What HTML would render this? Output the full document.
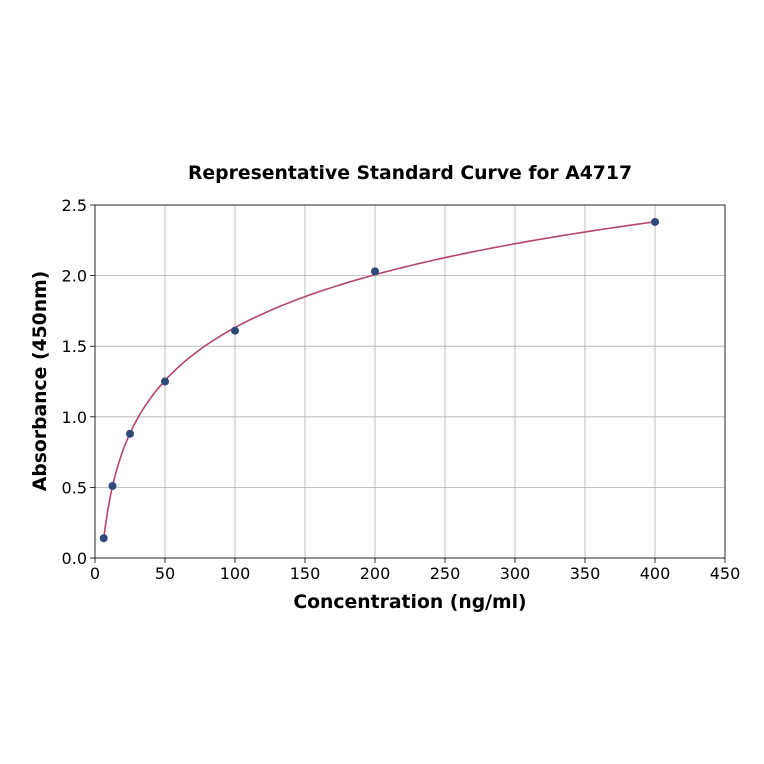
<!DOCTYPE html>
<html><head><meta charset="utf-8">
<style>
html,body{margin:0;padding:0;background:#fff;}
svg{display:block;font-family:"DejaVu Sans","Liberation Sans",sans-serif;}
</style></head>
<body>
<svg id="chart" width="764" height="764" viewBox="0 0 764 764">
<text x="410" y="179" text-anchor="middle" font-size="18.8" font-weight="bold">Representative Standard Curve for A4717</text>
<g id="grid"></g>
<g id="axes"></g>
<g id="marks"></g>
<text x="410" y="608" text-anchor="middle" font-size="18.8" font-weight="bold">Concentration (ng/ml)</text>
<text transform="translate(46,381) rotate(-90)" text-anchor="middle" font-size="18.8" font-weight="bold">Absorbance (450nm)</text>
</svg>
<script>
const concentrations=[6.25,12.5,25,50,100,200,400];
const absorbances=[0.14,0.51,0.88,1.25,1.61,2.03,2.38];
const xTicks=[0,50,100,150,200,250,300,350,400,450];
const yTicks=[0,0.5,1.0,1.5,2.0,2.5];
const yTickLabels=["0.0","0.5","1.0","1.5","2.0","2.5"];

const L=95,R=725,T=205,B=558;
const xs=v=>L+(v-0)/(450-0)*(R-L);
const ys=v=>B-(v-0)/(2.5-0)*(B-T);
const NS="http://www.w3.org/2000/svg";
function mk(tag,attrs,parent){const e=document.createElementNS(NS,tag);for(const k in attrs)e.setAttribute(k,attrs[k]);parent.appendChild(e);return e;}
const grid=document.getElementById('grid'),axes=document.getElementById('axes'),marks=document.getElementById('marks');

xTicks.forEach((t,i)=>{
  const g=mk('line',{x1:xs(t),x2:xs(t),y1:T,y2:B,stroke:'#b0b0b0','stroke-width':0.8},grid);
  
  
  const tk=mk('line',{x1:xs(t),x2:xs(t),y1:B,y2:B+5,stroke:'#000','stroke-width':0.8},axes);
  
  
  const tx=mk('text',{x:xs(t),y:B+21,'text-anchor':'middle','font-size':16},axes);
  tx.textContent=String(t);
  
  
});
yTicks.forEach((t,i)=>{
  const g=mk('line',{x1:L,x2:R,y1:ys(t),y2:ys(t),stroke:'#b0b0b0','stroke-width':0.8},grid);
  
  
  const tk=mk('line',{x1:L-5,x2:L,y1:ys(t),y2:ys(t),stroke:'#000','stroke-width':0.8},axes);
  
  
  const tx=mk('text',{x:L-8,y:ys(t)+6,'text-anchor':'end','font-size':16},axes);
  tx.textContent=yTickLabels[i];
  
  
});
const frame=mk('rect',{x:L,y:T,width:R-L,height:B-T,fill:'none',stroke:'#000','stroke-width':0.8},axes);



// least-squares fit y = a + b ln(x)
const lx=concentrations.map(Math.log);
const n=lx.length,mx=lx.reduce((a,b)=>a+b)/n,my=absorbances.reduce((a,b)=>a+b)/n;
let sxy=0,sxx=0;for(let i=0;i<n;i++){sxy+=(lx[i]-mx)*(absorbances[i]-my);sxx+=(lx[i]-mx)**2;}
const b=sxy/sxx,a=my-b*mx;
const x0=Math.min(...concentrations),x1=Math.max(...concentrations);
let d='';
for(let i=0;i<=200;i++){const x=x0*Math.pow(x1/x0,i/200);const y=a+b*Math.log(x);d+=(i?'L':'M')+xs(x).toFixed(2)+','+ys(y).toFixed(2);}
const curve=mk('path',{d:d,fill:'none',stroke:'#b5446e','stroke-width':1.6},marks);



concentrations.forEach((c,i)=>{
  const p=mk('circle',{cx:xs(c),cy:ys(absorbances[i]),r:4,fill:'#2e4a7a'},marks);
  
  
});
</script>
</body></html>
